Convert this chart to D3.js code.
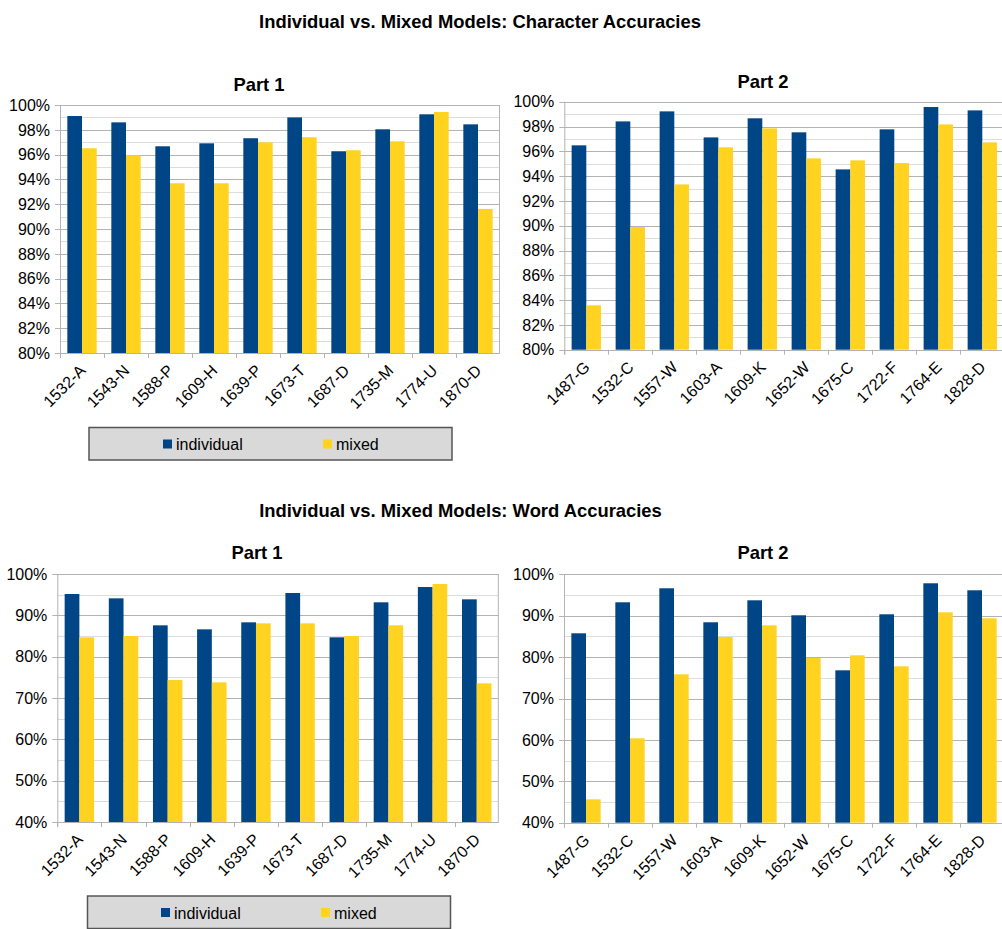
<!DOCTYPE html>
<html><head><meta charset="utf-8">
<script src="https://cdn.jsdelivr.net/npm/d3@7"></script>
<style>
body{margin:0;background:#fff}
text{font-family:"Liberation Sans",Arial,sans-serif;fill:#000}
</style>
</head><body>
<svg id="c" width="1002" height="929"></svg>
<script>
// ---------- data ----------
const part1Categories = ["1532-A","1543-N","1588-P","1609-H","1639-P","1673-T","1687-D","1735-M","1774-U","1870-D"];
const part2Categories = ["1487-G","1532-C","1557-W","1603-A","1609-K","1652-W","1675-C","1722-F","1764-E","1828-D"];

const charPart1Individual = [0.9911,0.9860,0.9667,0.9691,0.9732,0.9900,0.9627,0.9804,0.9925,0.9844];
const charPart1Mixed      = [0.9651,0.9595,0.9369,0.9369,0.9699,0.9740,0.9635,0.9707,0.9944,0.9162];
const charPart2Individual = [0.9648,0.9841,0.9922,0.9712,0.9866,0.9753,0.9454,0.9777,0.9957,0.9930];
const charPart2Mixed      = [0.8358,0.8989,0.9333,0.9632,0.9785,0.9543,0.9527,0.9505,0.9817,0.9672];

const wordPart1Individual = [0.9516,0.9411,0.8758,0.8661,0.8831,0.9540,0.8468,0.9315,0.9685,0.9387];
const wordPart1Mixed      = [0.8468,0.8500,0.7435,0.7379,0.8806,0.8806,0.8500,0.8758,0.9758,0.7355];
const wordPart2Individual = [0.8575,0.9324,0.9662,0.8841,0.9372,0.9010,0.7681,0.9034,0.9783,0.9614];
const wordPart2Mixed      = [0.4565,0.6039,0.7585,0.8486,0.8768,0.7979,0.8043,0.7778,0.9082,0.8937];

const charTicks = [0.80,0.82,0.84,0.86,0.88,0.90,0.92,0.94,0.96,0.98,1.00];
const wordTicks = [0.40,0.50,0.60,0.70,0.80,0.90,1.00];

const seriesNames  = ["individual","mixed"];
const seriesColors = ["#004586","#ffd320"];

const mainTitles = ["Individual vs. Mixed Models: Character Accuracies","Individual vs. Mixed Models: Word Accuracies"];
const partTitles = ["Part 1","Part 2"];

// ---------- drawing ----------
const svg = d3.select("#c");
const fmt = d3.format(".0%");
const MAJOR = "#b3b3b3", MINOR = "#dddddd";

function drawChart(cfg){
  const g = svg.append("g");
  const x = d3.scaleBand().domain(cfg.categories).range([cfg.left, cfg.right]).padding(0);
  const y = d3.scaleLinear().domain([cfg.ticks[0], cfg.ticks[cfg.ticks.length-1]]).range([cfg.bottom, cfg.top]);
  const step = x.step();

  // minor gridlines
  const minors = [];
  for(let i=0;i<cfg.ticks.length-1;i++) minors.push((cfg.ticks[i]+cfg.ticks[i+1])/2);
  g.selectAll(".minor").data(minors).join("line")
    .attr("x1",cfg.left).attr("x2",cfg.right)
    .attr("y1",d=>Math.round(y(d))+0.5).attr("y2",d=>Math.round(y(d))+0.5)
    .attr("stroke",MINOR).attr("stroke-width",1);
  // major gridlines + ticks
  g.selectAll(".major").data(cfg.ticks).join("line")
    .attr("x1",cfg.left-5).attr("x2",cfg.right)
    .attr("y1",d=>Math.round(y(d))+0.5).attr("y2",d=>Math.round(y(d))+0.5)
    .attr("stroke",MAJOR).attr("stroke-width",1);

  // bars
  const vals = [cfg.individual, cfg.mixed];
  vals.forEach((arr,si)=>{
    g.selectAll(".bar"+si).data(cfg.categories).join("rect")
      .attr("x",(c)=>x(c)+step/6+si*step/3)
      .attr("width",step/3)
      .attr("y",(c,i)=>y(arr[i]))
      .attr("height",(c,i)=>y(cfg.ticks[0])-y(arr[i]))
      .attr("fill",seriesColors[si]);
  });

  // axis lines
  g.append("line").attr("x1",cfg.left+0.5).attr("x2",cfg.left+0.5)
    .attr("y1",cfg.top).attr("y2",cfg.bottom+5).attr("stroke",MAJOR);
  g.append("line").attr("x1",cfg.right-0.5).attr("x2",cfg.right-0.5)
    .attr("y1",cfg.top).attr("y2",cfg.bottom).attr("stroke",MAJOR);
  g.append("line").attr("x1",cfg.left).attr("x2",cfg.right)
    .attr("y1",Math.round(cfg.bottom)+0.5).attr("y2",Math.round(cfg.bottom)+0.5).attr("stroke",MAJOR);
  // category boundary ticks
  g.selectAll(".xt").data(cfg.categories).join("line")
    .attr("x1",c=>Math.round(x(c))+0.5).attr("x2",c=>Math.round(x(c))+0.5)
    .attr("y1",cfg.bottom).attr("y2",cfg.bottom+5).attr("stroke",MAJOR);

  // y labels
  g.selectAll(".yl").data(cfg.ticks).join("text")
    .attr("x",cfg.left-10).attr("y",d=>y(d)).attr("dy","0.36em")
    .attr("text-anchor","end").style("font-size","16px")
    .text(d=>fmt(d));

  // x labels
  g.selectAll(".xl").data(cfg.categories).join("text")
    .attr("transform",c=>`translate(${x(c)+step/2+4.5},${cfg.bottom+18.5}) rotate(-45)`)
    .attr("text-anchor","end").style("font-size","16px")
    .text(c=>c);

  // part title
  g.append("text").attr("x",cfg.titleX).attr("y",cfg.titleY)
    .attr("text-anchor","middle").style("font-size","18.4px").style("font-weight","bold")
    .text(cfg.title);
}

function drawLegend(lx,ly,lw,lh,sqX,sqY,txtY){
  const g = svg.append("g");
  g.append("rect").attr("x",lx).attr("y",ly).attr("width",lw).attr("height",lh)
    .attr("fill","#d9d9d9").attr("stroke","#555555").attr("stroke-width",1.5);
  seriesNames.forEach((n,i)=>{
    const sx = sqX + i*160;
    g.append("rect").attr("x",sx).attr("y",sqY).attr("width",9).attr("height",9).attr("fill",seriesColors[i]);
    g.append("text").attr("x",sx+13).attr("y",txtY).style("font-size","16px").text(n);
  });
}

// main titles
svg.append("text").attr("x",480).attr("y",27.5).attr("text-anchor","middle")
  .style("font-size","18.4px").style("font-weight","bold").text(mainTitles[0]);
svg.append("text").attr("x",460.5).attr("y",516.5).attr("text-anchor","middle")
  .style("font-size","18.4px").style("font-weight","bold").text(mainTitles[1]);

drawChart({categories:part1Categories, individual:charPart1Individual, mixed:charPart1Mixed, ticks:charTicks,
  left:60, right:500, top:105, bottom:353, title:partTitles[0], titleX:259, titleY:90.5});
drawChart({categories:part2Categories, individual:charPart2Individual, mixed:charPart2Mixed, ticks:charTicks,
  left:564.3, right:1004.3, top:101.7, bottom:349.7, title:partTitles[1], titleX:763, titleY:87.5});
drawChart({categories:part1Categories, individual:wordPart1Individual, mixed:wordPart1Mixed, ticks:wordTicks,
  left:57.3, right:498.8, top:574, bottom:822, title:partTitles[0], titleX:257, titleY:558.5});
drawChart({categories:part2Categories, individual:wordPart2Individual, mixed:wordPart2Mixed, ticks:wordTicks,
  left:564, right:1004, top:574.3, bottom:822.7, title:partTitles[1], titleX:763, titleY:558.5});

drawLegend(89,427.5,363,32.5,163,439.5,450);
drawLegend(87.5,896,363,32.5,161,908,918.5);
</script>
</body></html>
